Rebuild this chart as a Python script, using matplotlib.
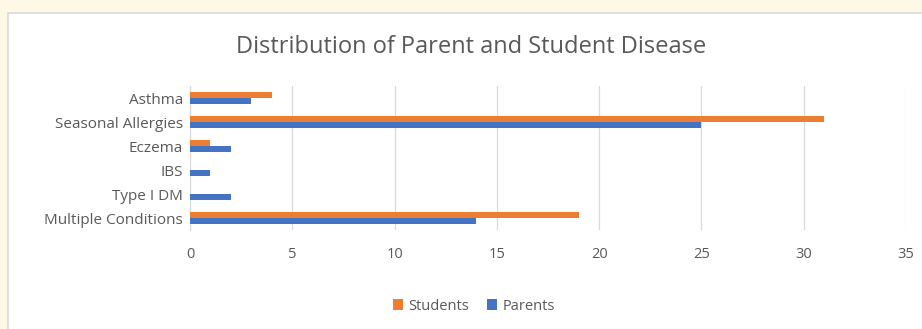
import matplotlib
matplotlib.use("Agg")
import matplotlib.pyplot as plt
import numpy as np
from matplotlib.patches import Rectangle

plt.rcParams["font.family"] = ["Open Sans", "DejaVu Sans"]

categories = ["Asthma", "Seasonal Allergies", "Eczema", "IBS", "Type I DM", "Multiple Conditions"]
students = [4, 31, 1, 0, 0, 19]
parents = [3, 25, 2, 1, 2, 14]
xticks = [0, 5, 10, 15, 20, 25, 30, 35]

txt = "#595959"
fig = plt.figure(figsize=(9.22, 3.29), dpi=100)
fig.patch.set_facecolor("#FEF9E6")
fig.patches.append(Rectangle((8 / 922, -0.1), 1.0, 1 - 13 / 329 + 0.1, transform=fig.transFigure,
                             facecolor="white", edgecolor="#D9D9D9", lw=1.2, zorder=0))

ax = fig.add_axes([190 / 922, 1 - 230 / 329, 716 / 922, 144 / 329])
ax.set_zorder(5)
ax.set_facecolor("none")
y = np.arange(len(categories))
h = 0.25
ax.barh(y - h / 2, students, height=h, color="#ED7D31", label="Students", zorder=3)
ax.barh(y + h / 2, parents, height=h, color="#4472C4", label="Parents", zorder=3)
ax.set_yticks(y)
ax.set_yticklabels(categories)
ax.set_ylim(len(categories) - 0.5, -0.5)
ax.set_xlim(0, 35)
ax.set_xticks(xticks)
ax.grid(axis="x", color="#D9D9D9", lw=0.9, zorder=0)
ax.grid(axis="y", visible=False)
for s in ["top", "right", "bottom"]:
    ax.spines[s].set_visible(False)
ax.spines["left"].set_color("#D9D9D9")
ax.tick_params(length=0, colors=txt, labelsize=10.5)
ax.tick_params(axis="y", labelsize=11)
ax.tick_params(axis="x", pad=12)
ax.tick_params(axis="y", pad=5)

t = fig.text(0.511, 1 - 47 / 329, "Distribution of Parent and Student Disease", ha="center", va="center",
             fontsize=17, color=txt)
t.set_zorder(6)
leg = fig.legend(loc="center", bbox_to_anchor=(0.514, 1 - 306 / 329), ncol=2, frameon=False,
                 fontsize=10.5, labelcolor=txt, handlelength=0.7, handleheight=0.7, handletextpad=0.4,
                 columnspacing=1.2)
leg.set_zorder(6)

fig.savefig("out.png", dpi=100, facecolor=fig.get_facecolor())
